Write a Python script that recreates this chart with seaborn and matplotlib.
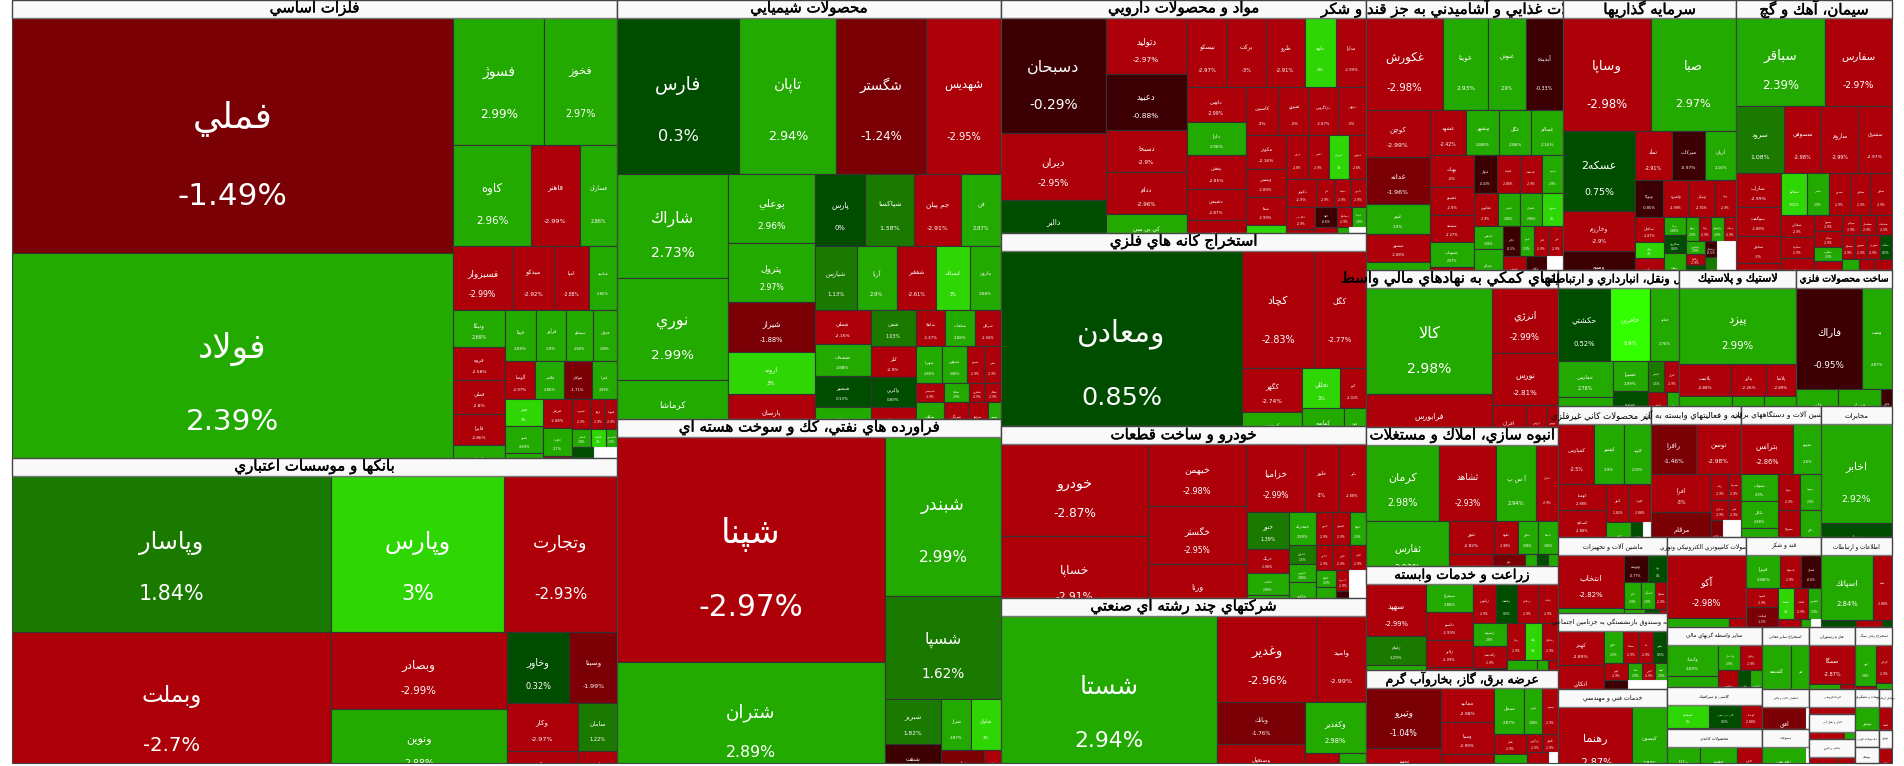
import matplotlib
matplotlib.use("Agg")
import numpy as np
import matplotlib.pyplot as plt
import matplotlib.patheffects as pe
import seaborn as sns
from matplotlib.patches import Rectangle

sns.set_theme(style="white")
plt.rcParams['font.family'] = ['DejaVu Sans']

CANVAS_W, CANVAS_H = 1904, 766
MAP_LEFT, MAP_WIDTH, MAP_HEIGHT = 12, 1880, 763
HEADER_H = 18

# colour bins for the daily change in percent
change_edges = [-2, -1, 0, 1, 2, 3, 8]
change_colors = sns.color_palette(["#ad0009", "#7b0005", "#3d0002", "#004d00",
                                   "#1a7a00", "#22aa00", "#2ed604", "#33ff00"])

# each tile is (ticker, change %, market value); "h" and "v" groups are the treemap nesting
metals = ["h",
    ["v", ("فملي", -1.49, 103600), ("فولاد", 2.39, 98300)],
    ["v",
        ["h", ("فسوژ", 2.99, 11520), ("فخوز", 2.97, 9200)],
        ["h", ("كاوه", 2.96, 7850), ("فاهنر", -2.99, 4900), ("فسازان", 2.86, 3770)],
        ["h", ("فسبزوار", -2.99, 3770), ("ميدكو", -2.92, 2730), ("اميا", -2.88, 2210), ("فپاسه", 2.85, 1820)],
        ["h",
            ["v", ("ونيكا", 2.69, 1900), ("فروه", -2.58, 1740), ("فملي", -2.8, 1740), ("فايرا", -2.86, 1640), ("كيميا", 2.9, 1590)],
            ["v",
                ["h", ("فپنتا", 2.89, 1580), ("فرآور", 2.9, 1530), ("سيمكو", 2.88, 1380), ("فجهان", 2.88, 1220)],
                ["h", ("آلوسا", -2.97, 1140), ("فلامي", 2.86, 1060), ("فولاي", -1.71, 1060), ("فمرا", 2.89, 950)],
                ["h",
                    ["v", ("فجر", 3, 1050), ("شير", 2.89, 1010), ("فلوله", 2.9, 860)],
                    ["v", ("هرمز", -2.88, 860), ("ذوب", 2.7, 780), ("فنوال", -1.5, 590)],
                    ["v",
                        ["h", ("فسرب", -2.9, 580), ("ارفع", -2.9, 450), ("فتوسا", -2.9, 355)],
                        ["h", ("فباهنر", 2.8, 330), ("فكمند", 3, 260), ("فاسمين", 2.8, 195)],
                        ["h", ("فزر", 0.4, 650), ("", None, 680)]]]]]]]

banks = ["v",
    ["h", ("وپاسار", 1.84, 49600), ("وپارس", 3, 26800), ("وتجارت", -2.93, 17600)],
    ["h", ("وبملت", -2.7, 47400),
        ["v", ("وبصادر", -2.99, 13500), ("ونوين", 2.88, 12600)],
        ["v",
            ["h", ("وخاور", 0.32, 4460), ("وسينا", -1.99, 3380)],
            ["h", ("وكار", -2.97, 3400), ("سامان", 1.22, 1870)],
            ["h", ("وسالت", -2.9, 2130), ("پارس", -2.9, 1170)]]]]

chemicals = ["v",
    ["h", ("فارس", 0.3, 19000), ("تاپان", 2.94, 15100), ("شگستر", -1.24, 13900), ("شهديس", -2.95, 11700)],
    ["h",
        ["v", ("شاراك", 2.73, 11500), ("نوري", 2.99, 11300), ("كرماشا", 2.99, 6300)],
        ["v", ("بوعلي", 2.96, 5900), ("پترول", 2.97, 5100), ("شيراز", -1.88, 4300), ("اروند", 3, 3600), ("پارسان", -2.9, 3700)],
        ["v",
            ["h", ("پارس", 0, 3620), ("شپاكسا", 1.38, 3480), ("جم پيلن", -2.91, 3340), ("فن", 2.87, 2840)],
            ["h", ("شيارس", 1.13, 2690), ("آريا", 2.9, 2560), ("شفقير", -2.61, 2500), ("كيمياتك", 3, 2180), ("مارون", 2.88, 1980)],
            ["h",
                ["v", ("شملي", -2.16, 1900), ("شصدف", 2.88, 1790), ("شبصير", 0.13, 1740), ("ساينا", 2.9, 1680)],
                ["v", ("شفن", 1.03, 1620), ("كلر", -2.9, 1440), ("واكربي", 0.89, 1350), ("رسپا", -2.9, 1350)],
                ["v",
                    ["h", ("شاملا", -2.37, 1070), ("شلعاب", 2.88, 1070), ("شرانل", -2.94, 960)],
                    ["h", ("شهپرا", 2.88, 960), ("شدوص", 2.86, 890), ("شپترو", -2.9, 630), ("بپاس", -2.9, 630)],
                    ["h", ("شيپديس", -2.9, 530), ("شفارا", 2.9, 460), ("شكربن", -2.9, 300), ("شكلر", -2.9, 300)],
                    ["h", ("شكف", 2.9, 980), ("شرنگي", -2.9, 840), ("شرفيع", -2.9, 690), ("شسم", 2.9, 460)]]]]]]

refined = ["h",
    ["v", ("شپنا", -2.97, 60000), ("شتران", 2.89, 31800)],
    ["v", ("شبندر", 2.99, 18400), ("شسپا", 1.62, 12000),
        ["h",
            ["v", ("شبريز", 1.82, 2520), ("شنفت", -0.3, 2070)],
            ["v",
                ["h", ("شراز", 2.87, 1530), ("شاوان", 3, 1530)],
                ["h", ("شپاس", -1.5, 1330), ("نفت", -2.9, 530)]]]]]

pharma = ["h",
    ["v", ("دسبحان", -0.29, 11960), ("ديران", -2.95, 6970), ("دالبر", 0.5, 5300)],
    ["v", ("دتوليد", -2.97, 4480), ("دعبيد", -0.88, 4480), ("دسبحا", -2.9, 3440), ("ددام", -2.96, 3360), ("كي بي سي", 2.9, 2960)],
    ["v",
        ["h", ("نيسكو", -2.97, 2790), ("بركت", -3, 2650), ("ظرو", -2.91, 2650), ("دلوه", 3, 2180), ("مدارا", -2.99, 2040)],
        ["h",
            ["v", ("داوس", -2.99, 2030), ("دارا", 2.98, 1970), ("پخش", -2.85, 1970), ("دشيمي", -2.87, 1860), ("دفارا", -2.9, 1800)],
            ["v",
                ["h", ("كاسپين", -3, 1600), ("شيري", -3, 1460), ("دزاگرس", -2.87, 1360), ("ديهي", -3, 1360)],
                ["h",
                    ["v", ("مكوثر", -2.16, 1330), ("ويشش", -2.89, 1130), ("شفا", -2.99, 1130), ("داوه", 3, 1050)],
                    ["v",
                        ["h", ("دروز", -2.8, 940), ("دشير", -2.9, 900), ("دتهران", 3, 860), ("دپارس", -2.8, 740)],
                        ["h", ("دكوثر", -2.9, 860), ("دلر", -2.9, 490), ("دسينا", -2.9, 460), ("دامين", -2.9, 430)],
                        ["h",
                            ["v", ("دقاضي", -2.9, 640), ("دپاتك", -2.9, 640)],
                            ["v",
                                ["h", ("خلوا", -0.6, 420), ("دسانكو", -2.9, 300), ("دتماد", 2.8, 270)],
                                ["h", ("پديس", -2.9, 520), ("دفرا", 2.8, 300), ("", None, 410)]]]]]]]]]

mining = ["h", ("ومعادن", 0.85, 46500),
    ["v",
        ["h", ("كچاد", -2.83, 8420), ("كگل", -2.77, 6080)],
        ["h",
            ["v", ("كگهر", -2.74, 2700), ("كروميت", 2.9, 1920)],
            ["v",
                ["h", ("تجللي", 3, 1520), ("كبو", -2.02, 1040)],
                ["h", ("كماسه", 2.88, 1510), ("كفرا", 2.88, 800)]]]]]

autos = ["h",
    ["v", ("خودرو", -2.87, 13500), ("خساپا", -2.91, 11760)],
    ["v", ("خبهمن", -2.98, 6140), ("خگستر", -2.95, 5740), ("ورنا", -2.9, 5150)],
    ["v",
        ["h", ("خزاميا", -2.99, 3880), ("خلور", -3, 2380), ("بابر", -2.88, 1840)],
        ["h",
            ["v", ("ختور", 1.39, 1550), ("خرينگ", -2.88, 1000), ("خكمك", 2.88, 930), ("خچرخش", 2.9, 880)],
            ["v", ("خمحركه", 2.89, 890), ("خديزل", 1.5, 540), ("خپارس", 2.88, 490), ("خكاوه", 2.88, 918)],
            ["v",
                ["h", ("خمهر", -2.9, 560), ("خشرق", -2.9, 560), ("ختوقا", 2.9, 530)],
                ["h", ("خاذين", -2.9, 440), ("خاور", -2.9, 440), ("خفنر", -2.9, 410)],
                ["h",
                    ["v", ("خفولا", 2.9, 340), ("خريخت", 2.9, 600)],
                    ["v", ("خصدرا", -2.9, 270), ("خنصير", -0.4, 320)],
                    ("", None, 770)]]]]]

multi = ["h", ("شستا", 2.94, 35640),
    ["v",
        ["h", ("وغدير", -2.96, 8600), ("واميد", -2.99, 4210)],
        ["h",
            ["v", ("وبانك", -1.76, 3700), ("وصنعول", -2.9, 3260)],
            ["v", ("وكغدير", 2.98, 3110),
                ["h", ("وسپهر", -2.9, 950), ("وبنيان", 2.9, 760)]]]]]

food = ["v",
    ["h", ("غكورش", -2.98, 7070), ("غويتا", 2.93, 4190), ("غنوش", 2.9, 3440), ("آبديده", -0.33, 3440)],
    ["h",
        ["v", ("كوچن", -2.99, 2940), ("غدانه", -1.96, 3000), ("غبيم", 2.9, 1920), ("غبشهر", -2.88, 1790), ("غپونه", 2.9, 1660)],
        ["v",
            ["h", ("غشهد", -2.42, 1620), ("وبشهر", 2.88, 1490), ("غگل", 2.86, 1440), ("غسالم", 2.16, 1440)],
            ["h",
                ["v", ("بهپاك", -3, 1360), ("غصينو", -2.9, 1230), ("شيشه", -2.27, 1190), ("غشهداب", 2.87, 1100), ("غپاك", -2.9, 920)],
                ["v",
                    ["h", ("غبهار", -0.43, 870), ("غبيت", -2.88, 870), ("غدشت", -2.9, 840), ("غمينو", 2.9, 800)],
                    ["h", ("غفارس", -2.9, 790), ("غنيلي", 2.88, 730), ("غشان", 2.88, 730), ("غمهرا", 3, 690)],
                    ["h",
                        ["v", ("غديس", 2.88, 670), ("غدام", 2.88, 1130)],
                        ["v",
                            ["h", ("غالبر", -0.5, 490), ("غپينو", 2.9, 410), ("غاذر", -2.9, 430), ("غزر", -2.9, 410)],
                            ["h", ("غنوش", -2.9, 730), ("غگلپا", -0.6, 690), ("", None, 530)]]]]]]]]

investment = ["v",
    ["h", ("وساپا", -2.98, 10030), ("صبا", 2.97, 9690)],
    ["h",
        ["v", ("عسكه2", 0.75, 5760), ("وخارزم", -2.9, 2880), ("وسپه", -0.7, 2660)],
        ["v",
            ["h", ("تماد", -2.91, 1780), ("ميركات", -0.97, 1630), ("آريان", 2.16, 1490)],
            ["h", ("وتوكا", -0.85, 1060), ("واميره", -2.99, 990), ("ونيكي", -2.92, 990), ("ويله", -2.9, 800)],
            ["h",
                ["v", ("سامان", -2.87, 730), ("ودي", 3, 460), ("وآوا", -2.9, 870)],
                ["v", ("وصنا", 2.88, 400), ("سكارون", 0.6, 400), ("ونفت", 2.88, 770)],
                ["v",
                    ["h", ("وپويا", 2.9, 310), ("ولبنا", -2.9, 290), ("ولشرق", 2.9, 290), ("وملت", -2.9, 290)],
                    ["h",
                        ["v", ("ولپارس", 2.9, 250), ("وكاوه", -2.9, 230), ("وسين", 0.8, 440)],
                        ["v", ("ومشان", -0.5, 200), ("وهور", 1.1, 370)],
                        ("", None, 890)]]]]]]

cement = ["v",
    ["h", ("سباقر", 2.39, 7920), ("سفارس", -2.97, 5960)],
    ["h", ("سرود", 1.08, 3220), ("سصوفي", -2.98, 2550), ("ساروم", -2.99, 2480), ("سشرق", -2.97, 2280)],
    ["h",
        ["v", ("ساراب", -2.99, 1530), ("سهگمت", -2.88, 1300), ("سخوز", -3, 1220), ("سيتا", -2.9, 1130)],
        ["v",
            ["h", ("سفانو", 3.02, 1070), ("سنير", 2.9, 900), ("سدور", -2.9, 900), ("سقاين", -2.9, 860), ("سيلام", -2.9, 860)],
            ["h",
                ["v", ("سمازن", -2.9, 760), ("سكرما", -2.9, 690), ("سبهان", -2.9, 990)],
                ["v", ("سبزوا", -2.9, 460), ("سكار", -2.9, 460), ("سغرب", 2.9, 410), ("ساوه", -2.9, 780)],
                ["v",
                    ["h", ("سبجنو", -2.9, 360), ("سشمال", -2.9, 340), ("سدشت", -2.9, 340)],
                    ["h", ("سيدكو", -2.9, 290), ("سنوين", -2.9, 290), ("سهرمز", -2.9, 290), ("سآبيك", 0.5, 290)],
                    ["h", ("سپاهان", 2.9, 490), ("سمتاز", -2.9, 490), ("سفار", -2.9, 490)]]]]]]

fin_aux = ["h",
    ["v", ("كالا", 2.98, 13360), ("فرابورس", -2.9, 6430)],
    ["v", ("انرژي", -2.99, 4290), ("نورس", -2.81, 3500),
        ["h", ("افران", -2.9, 1360), ("ارزش", -2.9, 840), ("بورس", -2.9, 440)]]]

transport = ["v",
    ["h", ("حكشتي", 0.52, 3800), ("حافرين", 8.9, 2990), ("حتايد", 2.76, 2120)],
    ["h",
        ["v", ("حفارس", 2.78, 1980), ("حسينا", 2.9, 1490)],
        ["v", ("حسيرا", 2.99, 1050), ("حپترو", 0.6, 1150)],
        ["v",
            ["h", ("حسير", 1.5, 510), ("حريل", -2.9, 450)],
            ["h", ("حبندر", -2.9, 630), ("حآسا", 2.9, 400)]]]]

rubber = ["v", ("پيزد", 2.99, 8900),
    ["h", ("پلاست", -2.88, 1610), ("پتاير", -2.26, 1085), ("پلاسا", -2.89, 930)],
    ["h", ("پاكسا", 2.9, 1510), ("پمرجان", 2.8, 920), ("پدرس", 2.9, 900)]]

metal_goods = ["v",
    ["h", ("فاراك", -0.95, 6770), ("وست", 2.87, 3030)],
    ["h", ("فلفر", 2.9, 1470), ("فمراد", 2.88, 1500), ("فجام", -0.6, 385)]]

housing = ["v",
    ["h", ("كرمان", 2.98, 5260), ("ثشاهد", -2.93, 4100), ("آ س پ", 2.94, 2880), ("ثامان", -2.9, 1580)],
    ["h", ("ثفارس", 2.92, 4890),
        ["v",
            ["h", ("ثنور", -2.82, 1370), ("ثقوه", -2.98, 730), ("ثنظام", 2.88, 620), ("ثاصفا", 2.88, 620)],
            ["h", ("ثغرب", -2.88, 1270),
                ["v", ("ثباغ", -1.5, 550), ("ثرود", -2.9, 350)],
                ("ثعمرا", 2.9, 360), ("ثالوت", 0.8, 310), ("ثتران", 2.9, 290)]]]]

farming = ["h",
    ["v", ("سهپد", -2.99, 3120), ("زقيام", 1.29, 1740), ("زكوثر", 2.9, 1380)],
    ["v", ("سيمرغ", 2.88, 1290), ("داشبو", -2.99, 1290), ("زالبر", -2.99, 1240), ("زدشت", -2.9, 970)],
    ["v",
        ["h", ("زپارس", -2.9, 900), ("زكشت", 0.5, 820), ("زملارد", -2.9, 820), ("زشت", -2.9, 780)],
        ["h",
            ["v", ("زشريف", 2.8, 780), ("زگلدشت", -2.9, 750), ("زنجان", -0.5, 680)],
            ["v",
                ["h", ("زبينا", -2.9, 670), ("زفكا", 3, 630), ("زماهان", -2.9, 590)],
                ["h", ("زفجر", 2.9, 840), ("زشگرا", 2.9, 310), ("زغدير", -2.9, 280)]]]]]

power = ["h",
    ["v", ("وتيرو", -1.04, 4500), ("تجهيز", -2.9, 2480)],
    ["v", ("ممانيد", -2.98, 1800), ("وسبا", -2.99, 1700), ("بمپنا", -2.9, 1430)],
    ["v",
        ["h", ("سبجل", 2.87, 1380), ("بكهنو", 2.88, 830), ("بيستو", -2.9, 740)],
        ["h",
            ["v", ("بفجر", -2.9, 660), ("مپنا", 2.88, 890)],
            ["v",
                ["h", ("بزاگرس", -2.9, 290), ("بگيلان", -2.9, 270)],
                ["h", ("بخزر", -2.9, 640), ("", None, 260)]]]]]

nonmetal = ["v",
    ["h", ("كفپارس", -2.5, 2160), ("كپشير", 2.9, 1800), ("كلوند", 2.99, 1620)],
    ["h",
        ["v", ("كهمدا", -2.88, 1250), ("كساوه", -2.88, 1340), ("كمينا", -2.9, 820)],
        ["v",
            ["h", ("كنور", -2.82, 870), ("كلوت", -2.88, 840)],
            ["h", ("كاذر", 2.9, 820), ("كرزا", 0.5, 400), ("", None, 260)]]]]

computing = ["v",
    ["h", ("رافزا", -1.46, 2250), ("توسن", -2.98, 2250)],
    ["h",
        ["v", ("افرا", -3, 2320), ("مرقام", -1.5, 2620)],
        ["v",
            ["h", ("رتاپ", -2.9, 440), ("سپرده", -2.9, 340)],
            ["h", ("مداران", -2.9, 340), ("ياس", -2.9, 260)],
            ["h", ("پرداخت", -1.5, 420), ("", None, 630)]]]]

electric = ["v",
    ["h", ("بترانس", -2.86, 2600), ("بموتو", 2.8, 1400)],
    ["h",
        ["v", ("بشهاب", 2.9, 1000), ("بكابل", 2.88, 1000), ("بالبر", 2.9, 1000)],
        ["v", ("بنوتا", -2.9, 800), ("بسويچ", -2.9, 990)],
        ["v", ("بپيوند", 2.9, 760), ("بكام", 2.9, 945)]]]

telecom = ["v", ("اخابر", 2.92, 7030), ("همراه", 0.7, 2270)]

machinery = ["h",
    ["v", ("انتخاب", -2.82, 3500), ("فنرژي", 2.9, 1520)],
    ["v",
        ["h", ("وتوشه", -0.77, 670), ("تيرا", 0, 530)],
        ["h", ("تكنو", 2.9, 460), ("كمنگنز", 2.9, 380), ("شتوكا", -2.9, 320)],
        ["h", ("تپمپي", 2.9, 500), ("ماشين", 0.5, 300), ("لخزر", -2.9, 200)]]]

insurance = ["h",
    ["v", ("كهمز", -2.89, 1530), ("اتكاي", -2.88, 1890)],
    ["v",
        ["h", ("اتكام", 2.9, 610), ("بساما", -2.9, 510), ("ما", -2.9, 450), ("بپاس", 0.5, 450)],
        ["h", ("كوثر", -2.9, 410), ("ملت", 2.9, 240), ("البرز", -2.9, 220), ("آسيا", 2.9, 200)],
        ["h", ("پارسيان", -0.5, 650), ("", None, 1050)]]]

engineering = ["h", ("رهنما", -2.87, 5480), ("كيسون", 2.83, 2590)]

electronics = ["v", ("آكو", -2.98, 5040),
    ["h", ("مانيا", 2.9, 1700), ("پلمپ", -2.9, 460)]]

sugar = ["v",
    ["h", ("قپيرا", 2.88, 1120), ("قصفها", -2.9, 690), ("قشكر", -0.6, 660)],
    ["h",
        ["v", ("قشهد", -2.9, 590), ("قهكمت", -1.5, 620), ("قلرست", -2.9, 590)],
        ["v",
            ["h", ("قنيشا", 3, 500), ("قثابت", -2.9, 430), ("قشرين", 2.9, 400)],
            ["h", ("قمرو", -2.9, 600), ("قاسم", 2.9, 260), ("", None, 260)]]]]

info = ["v",
    ["h", ("اسپاتك", 2.84, 3440), ("مفيد", -2.88, 1235)],
    ["h", ("آتو", 0.5, 910), ("انفو", -2.9, 680), ("اپرداز", 0.4, 260)]]

other_fin = ["h",
    ["v", ("واتحاد", 2.89, 1530), ("واسپا", 2.9, 1430)],
    ["v",
        ["h", ("وانصار", 2.9, 530), ("ولراز", -2.9, 500)],
        ["h", ("ولپارس", -2.88, 700), ("وليز", 0.5, 420), ("وكبهمن", 2.9, 385)]]]

other_mines = ["h", ("كلمنسه", 2.99, 1770), ("كفر", 2.9, 1100)]

hotels = ["v", ("سمگا", -2.87, 1710),
    ["h", ("گوهران", 2.9, 690), ("توريل", -2.9, 345)]]

coal = ["h",
    ["v", ("ابهر", 2.8, 880), ("كشرق", -2.9, 440)],
    ["v", ("كزغال", -2.9, 600), ("كطبس", 2.9, 370)]]

tiles_ceramic = ["v",
    ["h", ("كسعدي", 3, 920), ("كي بي سي", 0.5, 680), ("كهمدا", -2.88, 460)],
    ["h", ("كباده", 2.9, 1390), ("كيمن", 0.8, 400)]]

paper = ["h", ("چكاپا", 2.9, 1120), ("چفيبر", 2.9, 1260), ("چدن", -2.9, 850)]

publishing = ["h", ("افق", -1.5, 1840), ("", None, 120)]
textiles = ["h", ("نخريس", 2.9, 1500), ("", None, 130)]
retail = ["h", ("ملت", -2.9, 1125)]
shipping = ["h", ("ميهنشو", -2.9, 825), ("نوين", 2.9, 275)]
leather = ["h", ("پكرمان", -2.9, 600), ("پارس", -2.9, 375)]
fishing = ["h", ("بوشهر", 2.9, 960)]
radio = ["h", ("لابسا", -2.9, 520)]
wood = ["h", ("", None, 408)]
clothing = ["h", ("", None, 384)]
tobacco = ["h", ("دخان", -2.9, 429)]

# sectors are (title, tiles, total value), nested the same way as the tiles
market = ["h",
    ["v", ("فلزات اساسي", metals, 277090), ("بانكها و موسسات اعتباري", banks, 184525)],
    ["v", ("محصولات شيميايي", chemicals, 160896), ("فراورده هاي نفتي، كك و سوخت هسته اي", refined, 132096)],
    ["v", ("مواد و محصولات دارويي", pharma, 85045), ("استخراج كانه هاي فلزي", mining, 70445),
        ("خودرو و ساخت قطعات", autos, 62780), ("شركتهاي چند رشته اي صنعتي", multi, 60225)],
    ["v",
        ["h", ("محصولات غذايي و آشاميدني به جز قند و شكر", food, 53190), ("سرمايه گذاريها", investment, 46710),
            ("سيمان، آهك و گچ", cement, 42120)],
        ["h",
            ["v", ("فعاليتهاي كمكي به نهادهاي مالي واسط", fin_aux, 30144), ("انبوه سازي، املاك و مستغلات", housing, 26688),
                ("زراعت و خدمات وابسته", farming, 19968), ("عرضه برق، گاز، بخاروآب گرم", power, 17856)],
            ["v",
                ["h", ("حمل ونقل، انبارداري و ارتباطات", transport, 16456), ("لاستيك و پلاستيك", rubber, 15912),
                    ("ساخت محصولات فلزي", metal_goods, 13056)],
                ["h", ("ساير محصولات كاني غيرفلزي", nonmetal, 12183), ("رايانه و فعاليتهاي وابسته به آن", computing, 11790),
                    ("ماشين آلات و دستگاههاي برقي", electric, 10480), ("مخابرات", telecom, 9301)],
                ["h",
                    ["v", ("ماشين آلات و تجهيزات", machinery, 8284), ("بيمه وصندوق بازنشستگي به جزتامين اجتماعي", insurance, 8284),
                        ("خدمات فني و مهندسي", engineering, 8066)],
                    ["v",
                        ["h", ("محصولات كامپيوتري الكترونيكي ونوري", electronics, 7110), ("قند و شكر", sugar, 6750),
                            ("اطلاعات و ارتباطات", info, 6390)],
                        ["h",
                            ["v", ("ساير واسطه گريهاي مالي", other_fin, 5640), ("كاشي و سراميك", tiles_ceramic, 3948),
                                ("محصولات كاغذي", paper, 3196)],
                            ["v",
                                ["h", ("استخراج ساير معادن", other_mines, 2928), ("هتل و رستوران", hotels, 2806),
                                    ("استخراج زغال سنگ", coal, 2257)],
                                ["h",
                                    ["v", ("انتشار، چاپ و تكثير", publishing, 1920), ("منسوجات", textiles, 1632)],
                                    ["v", ("خرده فروشي", retail, 1150), ("حمل و نقل آبي", shipping, 1150),
                                        ("دباغي و چرم", leather, 1104)],
                                    ["v",
                                        ["h", ("شيلات و ماهيگيري", fishing, 984), ("وسايل ارتباطي", radio, 533)],
                                        ["h",
                                            ["v", ("محصولات چوبي", wood, 408), ("پوشاك", clothing, 384)],
                                            ("توتون", tobacco, 429)]]]]]]]]]]]


# Arabic letters are drawn from presentation forms: (isolated, final, initial, medial)
FORMS = {"ء": (0xFE80,), "آ": (0xFE81, 0xFE82), "أ": (0xFE83, 0xFE84), "ؤ": (0xFE85, 0xFE86),
         "إ": (0xFE87, 0xFE88), "ا": (0xFE8D, 0xFE8E), "ة": (0xFE93, 0xFE94),
         "د": (0xFEA9, 0xFEAA), "ذ": (0xFEAB, 0xFEAC), "ر": (0xFEAD, 0xFEAE), "ز": (0xFEAF, 0xFEB0),
         "ژ": (0xFB8A, 0xFB8B), "و": (0xFEED, 0xFEEE)}
for letter, start in {"ئ": 0xFE89, "ب": 0xFE8F, "ت": 0xFE95, "ث": 0xFE99, "ج": 0xFE9D, "ح": 0xFEA1, "خ": 0xFEA5,
                      "س": 0xFEB1, "ش": 0xFEB5, "ص": 0xFEB9, "ض": 0xFEBD, "ط": 0xFEC1, "ظ": 0xFEC5, "ع": 0xFEC9,
                      "غ": 0xFECD, "ف": 0xFED1, "ق": 0xFED5, "ك": 0xFED9, "ل": 0xFEDD, "م": 0xFEE1, "ن": 0xFEE5,
                      "ه": 0xFEE9, "ي": 0xFEF1, "پ": 0xFB56, "چ": 0xFB7A, "ک": 0xFB8E, "گ": 0xFB92, "ی": 0xFBFC}.items():
    FORMS[letter] = tuple(start + i for i in range(4))
LAM_ALEF = {"ا": (0xFEFB, 0xFEFC), "آ": (0xFEF5, 0xFEF6), "أ": (0xFEF7, 0xFEF8), "إ": (0xFEF9, 0xFEFA)}


def shape(text):
    # matplotlib has no text shaping, so join the letters here and reverse for the visual order
    out = []
    joined = False
    i = 0
    while i < len(text):
        ch = text[i]
        forms = FORMS.get(ch)
        if forms is None:
            out.append(ch)
            joined = False
            i += 1
            continue
        if ch == "ل" and i + 1 < len(text) and text[i + 1] in LAM_ALEF:
            out.append(chr(LAM_ALEF[text[i + 1]][1 if joined else 0]))
            joined = False
            i += 2
            continue
        nxt = text[i + 1] if i + 1 < len(text) else ""
        goes_on = len(forms) == 4 and nxt in FORMS and len(FORMS[nxt]) > 1
        if len(forms) == 1:
            idx = 0
        elif joined and goes_on:
            idx = 3
        elif joined:
            idx = 1
        elif goes_on:
            idx = 2
        else:
            idx = 0
        out.append(chr(forms[idx]))
        joined = goes_on
        i += 1
    return "".join(reversed(out))


def weight(node):
    if isinstance(node, tuple):
        return node[2]
    return sum(weight(child) for child in node[1:])


def slice_box(node, x, y, w, h, found):
    if isinstance(node, tuple):
        found.append((node, x, y, w, h))
        return
    total = weight(node)
    for child in node[1:]:
        share = weight(child) / total
        if node[0] == "h":
            slice_box(child, x, y, w * share, h, found)
            x += w * share
        else:
            slice_box(child, x, y, w, h * share, found)
            y += h * share


def px_to_pt(px):
    return px * 72 / fig.dpi


def tile_color(change):
    if change is None:
        return "white"
    return change_colors[int(np.digitize(change, change_edges))]


fig, ax = plt.subplots(figsize=(CANVAS_W / 100, CANVAS_H / 100), dpi=100)
fig.subplots_adjust(0, 0, 1, 1)
ax.set_xlim(0, CANVAS_W)
ax.set_ylim(CANVAS_H, 0)
ax.axis("off")

sector_boxes = []
slice_box(market, MAP_LEFT, 0, MAP_WIDTH, MAP_HEIGHT, sector_boxes)
title_ink = [pe.withStroke(linewidth=0.3, foreground="black")]

for order, ((title, tiles, _), sx, sy, sw, sh) in enumerate(sector_boxes):
    base = order * 10 + 10
    # the treemap keeps the whole sector height below the header, so its bottom gets cut off
    sector_clip = Rectangle((sx, sy), sw, sh, transform=ax.transData)
    boxes = []
    slice_box(tiles, sx, sy + HEADER_H, sw, sh, boxes)
    for (name, change, _), x, y, w, h in boxes:
        face = tile_color(change)
        rect = Rectangle((x, y), w, h, facecolor=face, edgecolor="#f0f0f0" if change is None else "#333333",
                         linewidth=0.8, zorder=base)
        ax.add_patch(rect)
        rect.set_clip_path(sector_clip)
        if change is None:
            continue
        side = min(w, h)
        for label, pos, scale in ((shape(name), 0.43, 0.153), (f"{change:g}%", 0.76, 0.132)):
            t = ax.text(x + w / 2, y + h * pos, label, color="white", fontsize=px_to_pt(max(scale * side, 3)),
                        ha="center", va="center", zorder=base + 1)
            t.set_clip_path(sector_clip)
    ax.add_patch(Rectangle((sx, sy), sw, min(HEADER_H, sh), facecolor="#f9f9f9", edgecolor="#777777",
                           linewidth=1, zorder=base + 2))
    ax.add_patch(Rectangle((sx, sy), sw, sh, fill=False, edgecolor="#444444", linewidth=0.8, zorder=base + 2))
    head_px = max(3, np.interp(np.sqrt(sw * sh), [0, 100, 150], [0, 7, 15]))
    ax.text(sx + sw / 2, sy + HEADER_H / 2, shape(title), color="black", fontsize=px_to_pt(head_px),
            ha="center", va="center", zorder=base + 3, path_effects=title_ink if head_px > 9 else None)

sns.despine(ax=ax, left=True, bottom=True)
fig.savefig("out.png", dpi=100, facecolor="white")
